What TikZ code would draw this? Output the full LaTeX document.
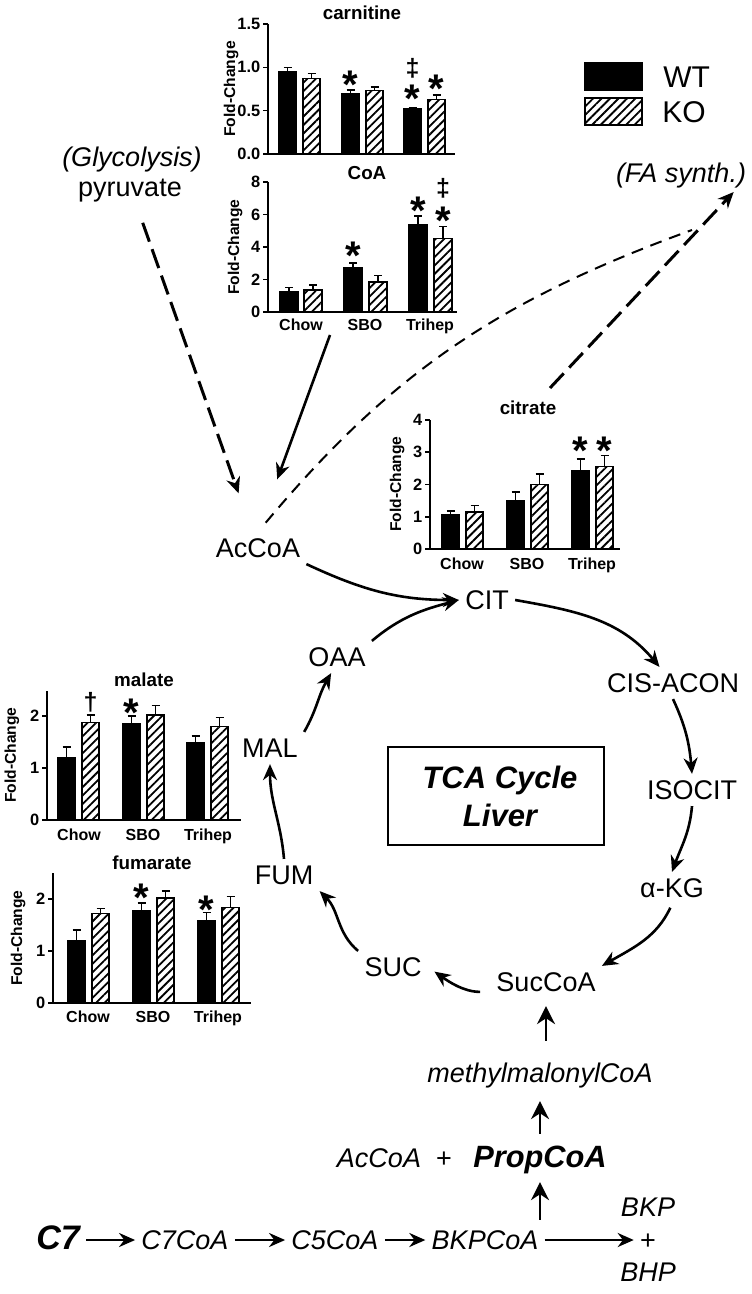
\documentclass[tikz,border=0pt]{standalone}
\usepackage{fontspec}
\setmainfont{Liberation Sans}
\usetikzlibrary{arrows.meta,patterns.meta}

\begin{document}
\begin{tikzpicture}[x=0.5pt, y=-0.5pt,
    met/.style={font=\fontsize{13.5}{16}\selectfont, inner sep=3pt, text height=9.7pt, text depth=0pt},
    emet/.style={met, font=\fontsize{13.5}{16}\selectfont\itshape},
    ttl/.style={font=\fontsize{9.4}{11}\selectfont\bfseries, inner sep=0pt},
    tck/.style={font=\fontsize{8.2}{10}\selectfont\bfseries, inner sep=1pt, anchor=east},
    cat/.style={font=\fontsize{8}{10}\selectfont\bfseries, inner sep=0pt, text height=5.8pt, text depth=0pt},
    ylab/.style={font=\fontsize{7.8}{9}\selectfont\bfseries, inner sep=0pt, rotate=90},
    sig/.style={font=\fontsize{20}{20}\selectfont\bfseries, inner sep=0pt, anchor=north},
    dag/.style={font=\fontsize{12.5}{14}\selectfont\bfseries, inner sep=0pt},
    leg/.style={font=\fontsize{15}{18}\selectfont, inner sep=0pt, anchor=west},
    wt/.style={fill=black, draw=black, line width=0.6pt},
    ko/.style={draw=black, line width=0.6pt, pattern={Lines[angle=45,distance=3pt,line width=0.9pt]}},
    axis/.style={line width=0.8pt},
    ebar/.style={line width=0.8pt},
    flow/.style={line width=1.3pt, -{Stealth[length=8pt,width=7pt]}},
    upflow/.style={line width=1.1pt, -{Stealth[length=9pt,width=9pt]}},
    dflow/.style={flow, dash pattern=on 10pt off 4pt, line width=1.5pt},
    dcurve/.style={line width=1pt, dash pattern=on 6pt off 4pt},
  ]
  \useasboundingbox (0,0) rectangle (751,1294);

  % carnitine
  \node[ttl] (carnttl) at (362,13) {carnitine};
  \draw[axis] (268,24) -- (268,154) -- (455,154);
  \foreach \t/\l in {0/0.0,0.5/0.5,1/1.0,1.5/1.5}
    \draw[axis] (268,{154-\t*86.67}) -- ++(-5,0) node[tck] {\l};
  \node[ylab] at (231,89) {Fold-Change};
  \foreach \bx/\v/\e/\s in {279/0.95/0.05/wt, 303/0.87/0.06/ko, 342/0.70/0.04/wt,
                            366/0.73/0.04/ko, 404/0.52/0.015/wt, 428/0.63/0.05/ko}
  {
    \draw[\s] (\bx,154) rectangle ({\bx+17},{154-\v*86.67});
    \draw[ebar] ({\bx+8.5},{154-\v*86.67}) -- ++(0,{-\e*86.67}) ++(-4,0) -- ++(8,0);
  }
  \node[sig] (carns1) at (350.5,71) {*};
  \node[sig] (carns2) at (412.5,85) {*};
  \node[dag] (carnd1) at (412.5,68) {‡};
  \node[sig] (carns3) at (436.5,75) {*};

  % CoA
  \node[ttl] (coattl) at (367,173) {CoA};
  \draw[axis] (268,182) -- (268,312) -- (457,312);
  \foreach \t in {0,2,4,6,8}
    \draw[axis] (268,{312-\t*16.25}) -- ++(-5,0) node[tck] {\t};
  \node[ylab] at (235,247) {Fold-Change};
  \foreach \bx/\v/\e/\s in {280/1.25/0.25/wt, 304/1.35/0.3/ko, 344/2.75/0.25/wt,
                            369/1.85/0.4/ko, 409/5.35/0.55/wt, 434/4.5/0.75/ko}
  {
    \draw[\s] (\bx,312) rectangle ({\bx+18},{312-\v*16.25});
    \draw[ebar] ({\bx+9},{312-\v*16.25}) -- ++(0,{-\e*16.25}) ++(-4,0) -- ++(8,0);
  }
  \node[cat] (coac1) at (301,325) {Chow};
  \node[cat] (coac2) at (365,325) {SBO};
  \node[cat] (coac3) at (430,325) {Trihep};
  \node[sig] (coas1) at (353,242) {*};
  \node[sig] (coas2) at (418,197) {*};
  \node[sig] (coas3) at (443,207) {*};
  \node[dag] (coad1) at (443,188) {‡};

  % citrate
  \node[ttl] (citttl) at (528,408) {citrate};
  \draw[axis] (430,420) -- (430,549) -- (620,549);
  \foreach \t in {0,1,2,3,4}
    \draw[axis] (430,{549-\t*32.25}) -- ++(-5,0) node[tck] {\t};
  \node[ylab] at (397,484) {Fold-Change};
  \foreach \bx/\v/\e/\s in {442/1.07/0.1/wt, 466/1.15/0.2/ko, 507/1.5/0.27/wt,
                            531/2.0/0.33/ko, 572/2.42/0.38/wt, 596/2.55/0.35/ko}
  {
    \draw[\s] (\bx,549) rectangle ({\bx+17},{549-\v*32.25});
    \draw[ebar] ({\bx+8.5},{549-\v*32.25}) -- ++(0,{-\e*32.25}) ++(-4,0) -- ++(8,0);
  }
  \node[cat] (citc1) at (462,564) {Chow};
  \node[cat] (citc2) at (527,564) {SBO};
  \node[cat] (citc3) at (592,564) {Trihep};
  \node[sig] (cits1) at (580.5,437) {*};
  \node[sig] (cits2) at (604.5,437) {*};

  % malate
  \node[ttl] (malttl) at (144,680) {malate};
  \draw[axis] (47,691) -- (47,820) -- (241,820);
  \foreach \t in {0,1,2}
    \draw[axis] (47,{820-\t*52}) -- ++(-5,0) node[tck] {\t};
  \node[ylab] at (12,755) {Fold-Change};
  \foreach \bx/\v/\e/\s in {58/1.2/0.2/wt, 82/1.88/0.14/ko, 123/1.85/0.15/wt,
                            147/2.02/0.18/ko, 187/1.48/0.14/wt, 211/1.8/0.17/ko}
  {
    \draw[\s] (\bx,820) rectangle ({\bx+17},{820-\v*52});
    \draw[ebar] ({\bx+8.5},{820-\v*52}) -- ++(0,{-\e*52}) ++(-4,0) -- ++(8,0);
  }
  \node[cat] (malc1) at (79,835) {Chow};
  \node[cat] (malc2) at (143,835) {SBO};
  \node[cat] (malc3) at (208,835) {Trihep};
  \node[dag] (mald1) at (90.5,702) {†};
  \node[sig] (mals1) at (131.5,699) {*};

  % fumarate
  \node[ttl] (fumttl) at (152,863) {fumarate};
  \draw[axis] (53,873) -- (53,1003) -- (251,1003);
  \foreach \t in {0,1,2}
    \draw[axis] (53,{1003-\t*52}) -- ++(-5,0) node[tck] {\t};
  \node[ylab] at (18,938) {Fold-Change};
  \foreach \bx/\v/\e/\s in {68/1.2/0.2/wt, 92/1.72/0.1/ko, 133/1.78/0.14/wt,
                            157/2.02/0.13/ko, 198/1.58/0.16/wt, 222/1.83/0.22/ko}
  {
    \draw[\s] (\bx,1003) rectangle ({\bx+17},{1003-\v*52});
    \draw[ebar] ({\bx+8.5},{1003-\v*52}) -- ++(0,{-\e*52}) ++(-4,0) -- ++(8,0);
  }
  \node[cat] (fumc1) at (88,1017) {Chow};
  \node[cat] (fumc2) at (153,1017) {SBO};
  \node[cat] (fumc3) at (218,1017) {Trihep};
  \node[sig] (fums1) at (141.5,884) {*};
  \node[sig] (fums2) at (206.5,896) {*};

  % legend
  \draw[wt] (585,63) rectangle (642,90);
  \draw[ko] (585,98) rectangle (642,125);
  \node[leg] (wtlab) at (663,77) {WT};
  \node[leg] (kolab) at (662,112) {KO};

  % pathway
  \node[emet] (glyc) at (132,157) {(Glycolysis)};
  \node[met] (pyr) at (130,187) {pyruvate};
  \node[emet] (fasyn) at (681,173) {(FA synth.)};
  \node[met] (acoa) at (258,548) {AcCoA};
  \node[met] (cit) at (487,600) {CIT};
  \node[met] (cisacon) at (673,683) {CIS-ACON};
  \node[met] (isocit) at (692,790) {ISOCIT};
  \node[met] (akg) at (672,888) {α-KG};
  \node[met] (succoa) at (546,982) {SucCoA};
  \node[met] (suc) at (393,967) {SUC};
  \node[met] (fum) at (284,875) {FUM};
  \node[met] (mal) at (270,748) {MAL};
  \node[met] (oaa) at (337,657) {OAA};
  \draw[line width=1.1pt] (388,747) rectangle (604,845);
  \node[font=\fontsize{15.5}{19}\selectfont\bfseries\itshape, align=center] (tca)
    at (500,796) {TCA Cycle\\Liver};
  \node[emet] (mmcoa) at (540,1073) {methylmalonylCoA};
  \node[emet] (acoa2) at (379,1158) {AcCoA};
  \node[met] (plus1) at (444,1158) {+};
  \node[met, font=\fontsize{15.4}{18}\selectfont\bfseries\itshape] (propcoa) at (540,1158) {PropCoA};
  \node[met, font=\fontsize{17}{20}\selectfont\bfseries\itshape] (c7) at (58,1240) {C7};
  \node[emet] (c7coa) at (185,1240) {C7CoA};
  \node[emet] (c5coa) at (335,1240) {C5CoA};
  \node[emet] (bkpcoa) at (485,1240) {BKPCoA};
  \node[emet] (bkp) at (648,1207) {BKP};
  \node[met] (plus2) at (648,1240) {+};
  \node[emet] (bhp) at (648,1272) {BHP};

  \coordinate (coaout) at (330,335);
  \coordinate (citup) at (550,388);
  \coordinate (join) at (692,230);

  \draw[dflow, shorten <=19pt, shorten >=29pt] (pyr.center) -- (acoa.center);
  \draw[flow, shorten >=28pt] (coaout) -- (acoa.north);
  \draw[dcurve, shorten <=6pt] (acoa.north) to[out=50,in=200] (join);
  \draw[dflow, shorten >=2pt] (citup) -- ([xshift=-8pt]fasyn.south east);
  \draw[flow] (acoa.south east) to[out=-25,in=180] (cit.west);
  \draw[flow] (oaa.north east) to[out=40,in=195] (cit.west);
  \draw[flow] (cit.east) to[out=-10,in=130] (cisacon.130);
  \draw[flow] (cisacon.south) to[out=-65,in=95] (isocit.north);
  \draw[flow] (isocit.south) to[out=-95,in=70] (akg.north);
  \draw[flow, shorten <=2pt] (akg.south) to[out=-115,in=30] (succoa.north east);
  \draw[flow, shorten <=5pt, shorten >=4pt] (succoa.190) to[out=180,in=-35] (suc.east);
  \draw[flow] (suc.north west) to[out=140,in=-45] (fum.south east);
  \draw[flow] (fum.north) to[out=95,in=-90] (mal.south);
  \draw[flow] (mal.north east) to[out=60,in=-120] (oaa.250);
  \draw[upflow, shorten <=8pt, shorten >=4pt] (mmcoa.north -| succoa.south) -- (succoa.south);
  \draw[upflow, shorten <=4pt, shorten >=6pt] (propcoa.north -| mmcoa.south) -- (mmcoa.south);
  \draw[upflow, shorten <=2pt, shorten >=4pt] (bkpcoa.north -| propcoa.south) -- (propcoa.south);
  \draw[flow] (c7) -- (c7coa);
  \draw[flow] (c7coa) -- (c5coa);
  \draw[flow] (c5coa) -- (bkpcoa);
  \draw[flow] (bkpcoa) -- (plus2);
\end{tikzpicture}
\end{document}
